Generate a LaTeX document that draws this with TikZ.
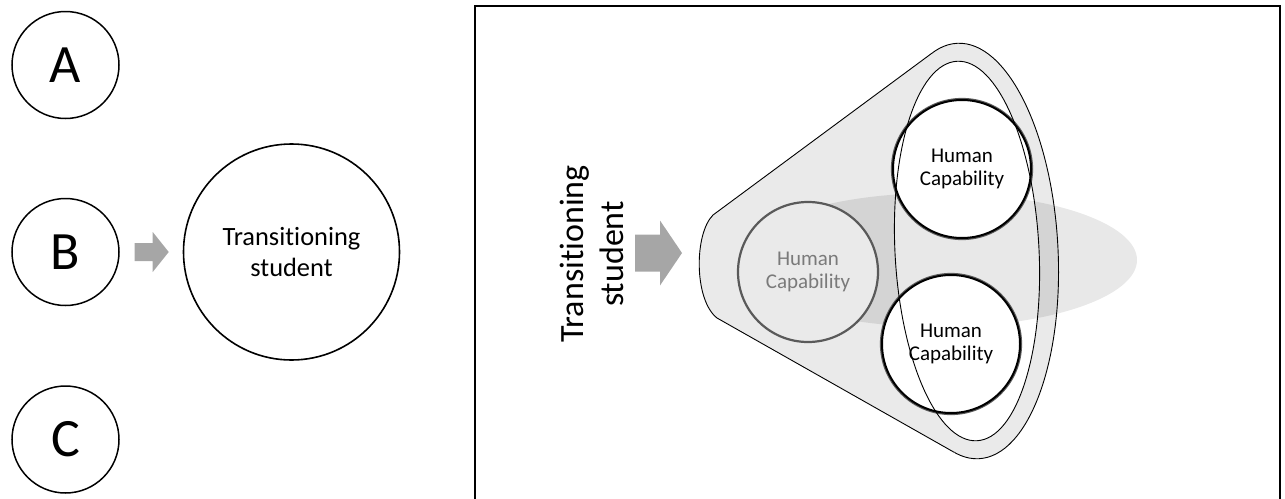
\documentclass[tikz,border=0pt]{standalone}
\usepackage{fontspec}
\setmainfont{Carlito}[Ligatures={NoCommon,NoContextual}]
\usetikzlibrary{calc}
\definecolor{funnelgray}{HTML}{EAEAEA}
\definecolor{arrowgray}{HTML}{A6A6A6}
\definecolor{ringgray}{HTML}{5A5A5A}
\definecolor{textgray}{HTML}{7A7A7A}
\begin{document}
\begin{tikzpicture}[x=1pt,y=-1pt,
  lettercirc/.style={circle, draw=black, line width=1.5pt, minimum size=107pt, inner sep=0pt, font=\fontsize{54}{60}\selectfont},
  bigcirc/.style={circle, draw=black, line width=1.6pt, minimum size=216pt, inner sep=0pt, align=center, font=\fontsize{26.4}{31}\selectfont},
  capcirc/.style={circle, minimum size=140pt, inner sep=0pt},
  captext/.style={align=center, font=\fontsize{21}{22.5}\selectfont},
  funnelline/.style={draw=black, line width=0.9pt},
  boxline/.style={draw=black, line width=1.6pt}]
\useasboundingbox (0,0) rectangle (1285,498);

% ---------- left part ----------
\node[lettercirc] (A) at (65.5,65) {A};
\node[lettercirc] (B) at (65.5,252) {B};
\node[lettercirc] (C) at (65.5,439.5) {C};
\node[bigcirc] (TS) at (291.5,252) {Transitioning\\student};
\coordinate (a1) at ($(B.east)!0.5!(TS.west)$);
\begin{scope}[shift={(a1)}]
  \fill[arrowgray] (-16.5,-9) -- (1.5,-9) -- (1.5,-20) -- (17.5,0) -- (1.5,20) -- (1.5,9) -- (-16.5,9) -- cycle;
\end{scope}

% ---------- frame ----------
\draw[boxline] (475,520) -- (475,6) -- (1280,6) -- (1280,520);

% ---------- rotated label and arrow ----------
\node[rotate=90, align=center, font=\fontsize{34}{40}\selectfont] (lbl) at (592,254) {Transitioning\\student};
\coordinate (a2) at (658.5,253);
\begin{scope}[shift={(a2)}]
  \fill[arrowgray] (-23.5,-18.5) -- (1.5,-18.5) -- (1.5,-32.5) -- (23.5,0) -- (1.5,32.5) -- (1.5,18.5) -- (-23.5,18.5) -- cycle;
\end{scope}

% ---------- funnel geometry ----------
\coordinate (P1) at (713,215);
\coordinate (P2) at (717,318);
\coordinate (T1) at (932.7,52.6);
\coordinate (T2) at (954.5,452.5);
\coordinate (M) at (968,251);
\coordinate (N) at (967,251);

% funnel fill
\fill[funnelgray] (P1) -- (T1) -- (T2) -- (P2) .. controls (694,300) and (694,234) .. (P1) -- cycle;
\begin{scope}[shift={(M)},rotate=3]
  \fill[funnelgray] (0,0) ellipse [x radius=90pt, y radius=208pt];
\end{scope}
% inner ellipse white
\begin{scope}[shift={(N)},rotate=3]
  \fill[white] (0,0) ellipse [x radius=72pt, y radius=190pt];
\end{scope}
% shadow band
\fill[black, opacity=0.09] (938,260) ellipse [x radius=199pt, y radius=67pt];

% left capability circle
\node[capcirc, fill=funnelgray, draw=ringgray, line width=2.2pt] (H1) at (808,272) {};
\node[captext, text=textgray] at (H1) {Human\\Capability};

% right capability circles (grey part)
\node[capcirc, fill=funnelgray, draw=ringgray, line width=2.2pt] (H2) at (962,169) {};
\node[capcirc, fill=funnelgray, draw=ringgray, line width=2.2pt] (H3) at (951,344) {};
\node[captext, text=textgray] at (H2) {Human\\Capability};
\node[captext, text=textgray] at (H3) {Human\\Capability};

% right capability circles (front part, inside inner ellipse)
\begin{scope}
  \begin{scope}[shift={(N)},rotate=3]
    \clip (0,0) ellipse [x radius=72pt, y radius=190pt];
  \end{scope}
  \node[capcirc, minimum size=138pt, fill=white, draw=black, line width=2pt] at (H2) {};
  \node[capcirc, minimum size=138pt, fill=white, draw=black, line width=2pt] at (H3) {};
  \node[captext, text=black] at (H2) {Human\\Capability};
  \node[captext, text=black] at (H3) {Human\\Capability};
\end{scope}

% funnel outline
\draw[funnelline] (T1) -- (P1) .. controls (694,234) and (694,300) .. (P2) -- (T2);
\begin{scope}
  \clip (930.5,12.6) -- (956.7,492.5) -- (1200,492.5) -- (1200,12.6) -- cycle;
  \begin{scope}[shift={(M)},rotate=3]
    \draw[funnelline] (0,0) ellipse [x radius=90pt, y radius=208pt];
  \end{scope}
\end{scope}
\begin{scope}[shift={(N)},rotate=3]
  \draw[funnelline] (0,0) ellipse [x radius=72pt, y radius=190pt];
\end{scope}
\end{tikzpicture}
\end{document}
